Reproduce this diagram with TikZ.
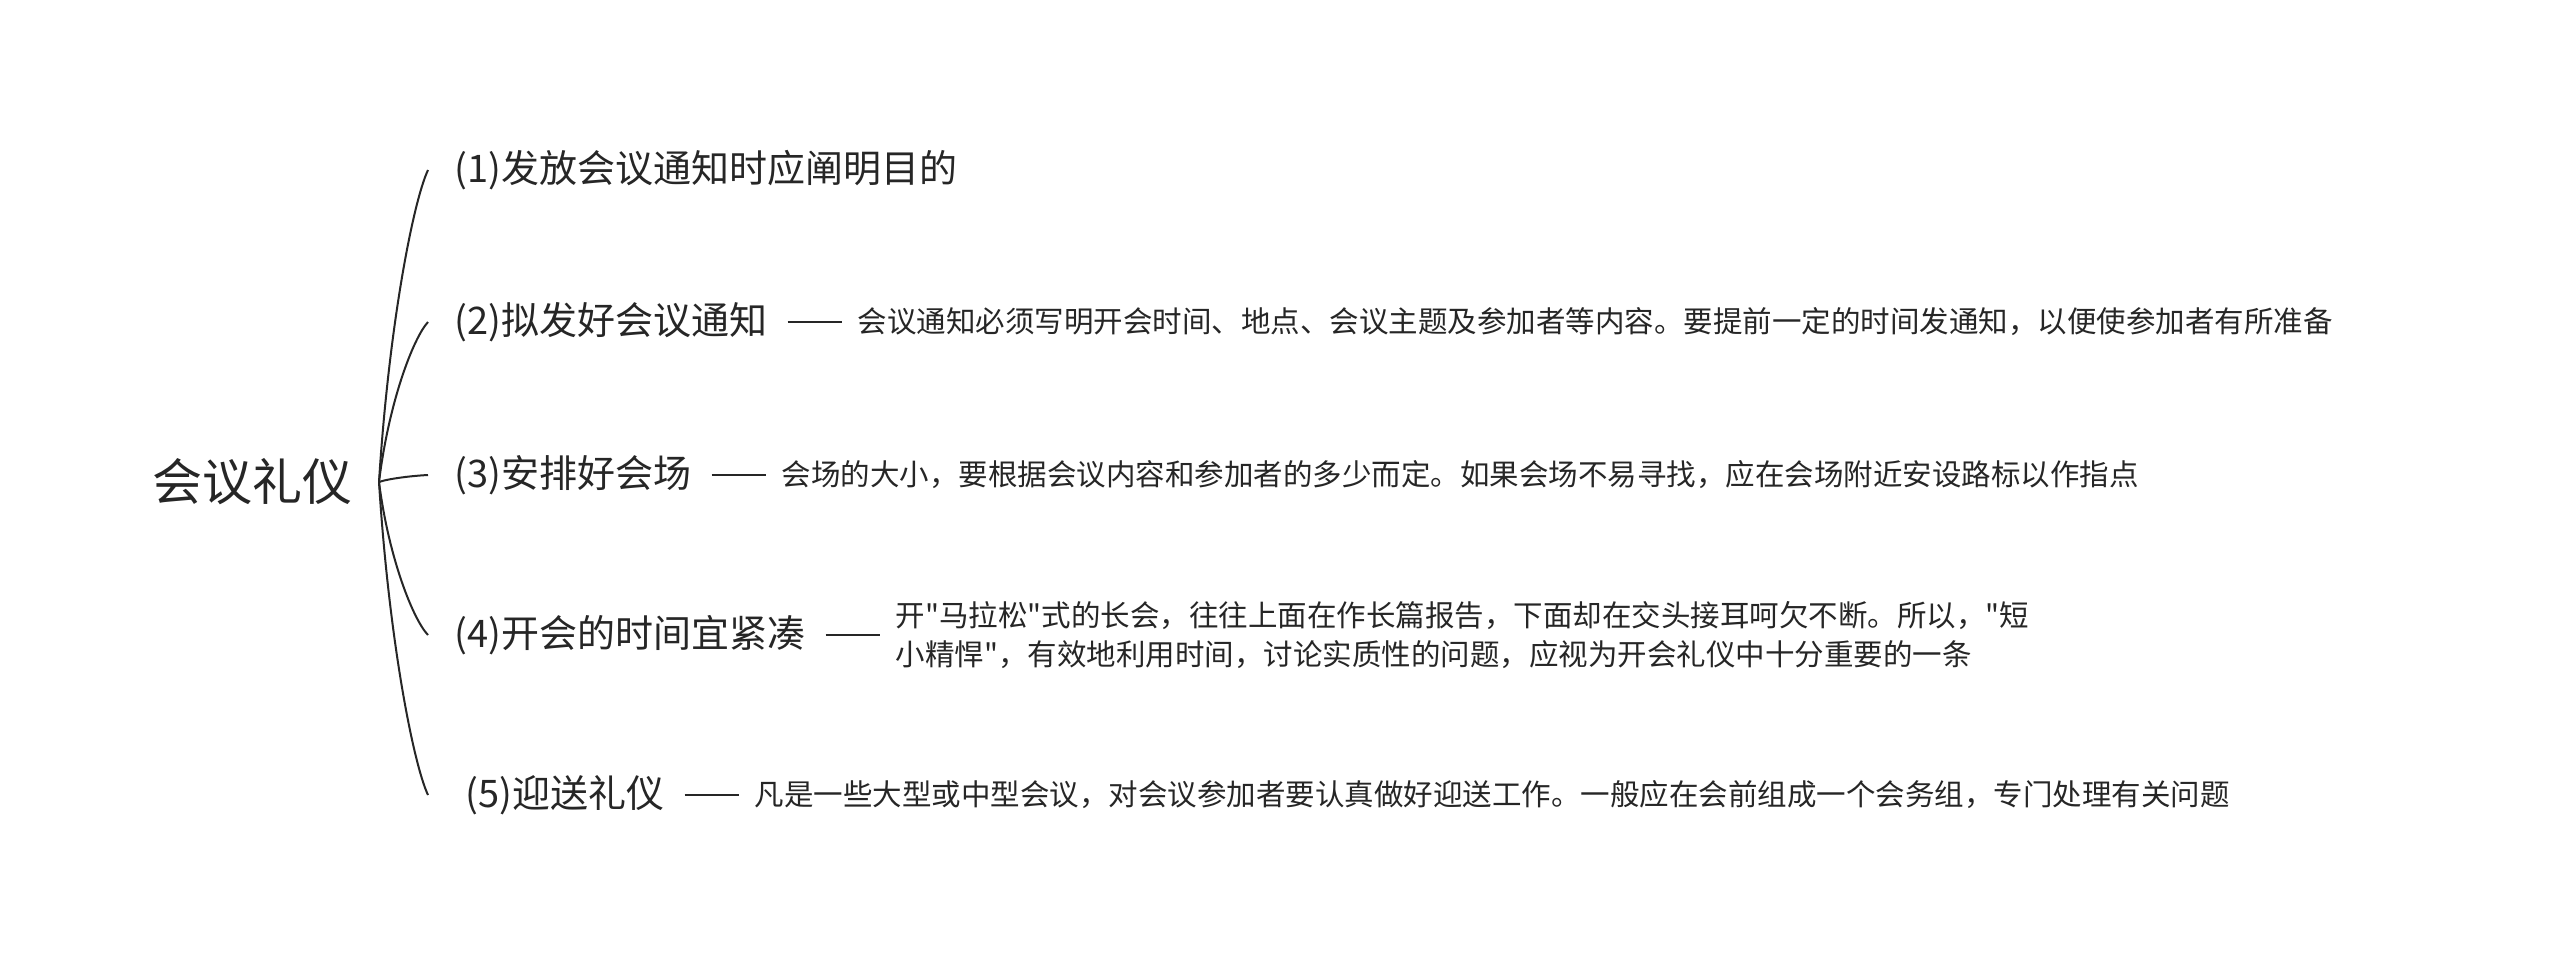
\documentclass[tikz,border=0pt]{standalone}
\usepackage{fontspec}
\setmainfont{Noto Sans CJK SC}[Ligatures=TeXOff]
\usetikzlibrary{positioning,calc}
\definecolor{ink}{RGB}{38,38,38}
\begin{document}
\begin{tikzpicture}[x=0.5pt,y=-0.5pt,
  every node/.style={text=ink},
  rootnode/.style={font=\fontsize{25}{30}\selectfont, anchor=west, inner sep=0pt},
  childnode/.style={font=\fontsize{19}{23}\selectfont, anchor=west, inner xsep=13pt, inner ysep=0pt},
  detailnode/.style={font=\fontsize{14.75}{19.5}\selectfont, inner xsep=8pt, inner ysep=0pt, align=left},
  branch/.style={draw=ink, line width=1pt},
  dashline/.style={draw=ink, line width=1.1pt, shorten <=-3pt},
]
\useasboundingbox[fill=white] (0,0) rectangle (2560,965);

\node[rootnode] (root) at (152,482) {会议礼仪};
\coordinate (hub) at (379,482);

\node[childnode] (c1) at (428,170) {(1)发放会议通知时应阐明目的};
\node[childnode] (c2) at (428,322) {(2)拟发好会议通知};
\node[childnode] (c3) at (428,475) {(3)安排好会场};
\node[childnode] (c4) at (428,635) {(4)开会的时间宜紧凑};
\node[childnode] (c5) at (428,795) {\kern5.5pt(5)迎送礼仪};

\node[detailnode, right=24pt of c2] (d2) {会议通知必须写明开会时间、地点、会议主题及参加者等内容。要提前一定的时间发通知，以便使参加者有所准备};
\node[detailnode, right=24pt of c3] (d3) {会场的大小，要根据会议内容和参加者的多少而定。如果会场不易寻找，应在会场附近安设路标以作指点};
\node[detailnode, right=24pt of c4] (d4) {开"马拉松"式的长会，往往上面在作长篇报告，下面却在交头接耳呵欠不断。所以，"短\\小精悍"，有效地利用时间，讨论实质性的问题，应视为开会礼仪中十分重要的一条};
\node[detailnode, right=24pt of c5] (d5) {凡是一些大型或中型会议，对会议参加者要认真做好迎送工作。一般应在会前组成一个会务组，专门处理有关问题};

\foreach \c in {c1,c2,c3,c4,c5}{
  \draw[branch] let \p1=(hub), \p2=(\c.west) in
    (\p1) .. controls ($(\p1)+({0.2*(\x2-\x1)},{0.5*(\y2-\y1)})$)
              and ($(\p2)+({-0.3*(\x2-\x1)},{-0.1*(\y2-\y1)})$) .. (\p2);
}

\draw[dashline] (c2.east) -- (d2.west);
\draw[dashline] (c3.east) -- (d3.west);
\draw[dashline] (c4.east) -- (d4.west);
\draw[dashline] (c5.east) -- (d5.west);
\end{tikzpicture}
\end{document}
